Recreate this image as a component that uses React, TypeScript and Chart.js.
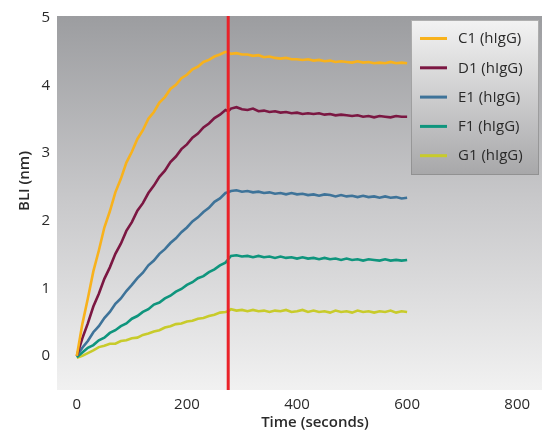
import { useEffect, useRef } from "react";
import { Chart, registerables } from "chart.js";

Chart.register(...registerables);

// Time points (seconds)
const times = [
  0, 10, 20, 30, 40, 50, 60, 70, 80, 90, 100, 110, 120, 130, 140, 150, 160, 170, 180, 190,
  200, 210, 220, 230, 240, 250, 260, 270, 275,
  280, 290, 300, 310, 320, 330, 340, 350, 360, 370, 380, 390, 400, 410, 420, 430, 440, 450,
  460, 470, 480, 490, 500, 510, 520, 530, 540, 550, 560, 570, 580, 590, 600,
];

const seriesNames = ["C1 (hIgG)", "D1 (hIgG)", "E1 (hIgG)", "F1 (hIgG)", "G1 (hIgG)"];
const seriesColors = ["#f8b21c", "#7b1742", "#3e7399", "#0f957d", "#c8cb2b"];

const c1 = [
  0.0, 0.47, 0.85, 1.25, 1.56, 1.9, 2.14, 2.42, 2.62, 2.86, 3.02, 3.21, 3.34, 3.51, 3.61, 3.75,
  3.83, 3.95, 4.01, 4.11, 4.16, 4.24, 4.28, 4.35, 4.38, 4.43, 4.46, 4.5, 4.49,
  4.47, 4.48, 4.46, 4.46, 4.44, 4.45, 4.42, 4.43, 4.41, 4.4, 4.41, 4.39, 4.39, 4.38, 4.39, 4.37,
  4.38, 4.36, 4.37, 4.35, 4.36, 4.35, 4.34, 4.36, 4.34, 4.35, 4.33, 4.34, 4.33, 4.35, 4.33, 4.34, 4.33,
];
const d1 = [
  0.0, 0.26, 0.48, 0.73, 0.92, 1.14, 1.31, 1.51, 1.66, 1.85, 1.98, 2.15, 2.26, 2.41, 2.52, 2.65,
  2.74, 2.87, 2.95, 3.06, 3.13, 3.23, 3.29, 3.38, 3.44, 3.52, 3.57, 3.64, 3.62,
  3.66, 3.68, 3.65, 3.64, 3.66, 3.62, 3.63, 3.61, 3.62, 3.6, 3.61, 3.59, 3.6, 3.58, 3.59, 3.58,
  3.59, 3.57, 3.58, 3.56, 3.57, 3.56, 3.55, 3.56, 3.54, 3.55, 3.53, 3.55, 3.54, 3.53, 3.55, 3.54, 3.54,
];
const e1 = [
  0.0, 0.12, 0.22, 0.35, 0.44, 0.56, 0.65, 0.77, 0.85, 0.96, 1.05, 1.15, 1.23, 1.34, 1.41, 1.51,
  1.58, 1.67, 1.74, 1.83, 1.9, 1.99, 2.05, 2.13, 2.19, 2.28, 2.33, 2.41, 2.42,
  2.44, 2.45, 2.43, 2.44, 2.42, 2.43, 2.41, 2.42, 2.4, 2.41, 2.39, 2.41, 2.39, 2.4, 2.38, 2.39,
  2.37, 2.39, 2.38, 2.36, 2.38, 2.36, 2.37, 2.35, 2.37, 2.35, 2.36, 2.34, 2.36, 2.34, 2.35, 2.33, 2.34,
];
const f1 = [
  -0.02, 0.05, 0.12, 0.16, 0.23, 0.27, 0.34, 0.38, 0.44, 0.48, 0.55, 0.59, 0.65, 0.69, 0.76, 0.79,
  0.85, 0.89, 0.95, 0.99, 1.05, 1.09, 1.15, 1.18, 1.24, 1.28, 1.34, 1.38, 1.43,
  1.48, 1.49, 1.47, 1.48, 1.46, 1.48, 1.46, 1.47, 1.45, 1.47, 1.45, 1.46, 1.44, 1.46, 1.44, 1.45,
  1.43, 1.45, 1.43, 1.44, 1.42, 1.44, 1.42, 1.43, 1.41, 1.43, 1.42, 1.41, 1.43, 1.41, 1.42, 1.41, 1.42,
];
const g1 = [
  -0.03, 0.0, 0.04, 0.08, 0.13, 0.15, 0.18, 0.18, 0.22, 0.23, 0.26, 0.27, 0.31, 0.33, 0.36, 0.38,
  0.42, 0.44, 0.47, 0.48, 0.51, 0.52, 0.55, 0.56, 0.59, 0.61, 0.64, 0.65, 0.66,
  0.69, 0.67, 0.68, 0.66, 0.68, 0.66, 0.67, 0.65, 0.67, 0.66, 0.68, 0.65, 0.66, 0.68, 0.65, 0.67,
  0.65, 0.66, 0.64, 0.67, 0.65, 0.66, 0.64, 0.67, 0.65, 0.66, 0.64, 0.66, 0.65, 0.67, 0.64, 0.66, 0.65,
];
const seriesValues = [c1, d1, e1, f1, g1];

const xTickValues = [0, 200, 400, 600, 800];
const yTickValues = [0, 1, 2, 3, 4, 5];
const markerTime = 275;
const xTitle = "Time (seconds)";
const yTitle = "BLI (nm)";

const FONT = "'Open Sans', 'Noto Sans', sans-serif";

const decorPlugin = {
  id: "decor",
  beforeDatasetsDraw(chart: any) {
    const { ctx, chartArea: a } = chart;
    ctx.save();
    const g = ctx.createLinearGradient(0, a.top, 0, a.bottom);
    g.addColorStop(0, "#9c9da0");
    g.addColorStop(0.5, "#c9c9cb");
    g.addColorStop(1, "#f1f1f1");
    ctx.fillStyle = g;
    ctx.fillRect(a.left, a.top, a.right - a.left, a.bottom - a.top);
    ctx.restore();
  },
  afterDatasetsDraw(chart: any) {
    const { ctx, chartArea: a, scales } = chart;
    ctx.save();
    // marker line
    const mx = scales.x.getPixelForValue(markerTime);
    ctx.strokeStyle = "#ea2229";
    ctx.lineWidth = 3;
    ctx.beginPath();
    ctx.moveTo(mx, a.top);
    ctx.lineTo(mx, a.bottom);
    ctx.stroke();

    // legend
    const lx = a.right - 131;
    const ly = a.top + 4;
    const lw = 128;
    const lh = 155;
    const lg = ctx.createLinearGradient(0, ly, 0, ly + lh);
    lg.addColorStop(0, "#f3f3f3");
    lg.addColorStop(1, "#a7a7a9");
    ctx.fillStyle = lg;
    ctx.fillRect(lx, ly, lw, lh);
    ctx.strokeStyle = "rgba(130,130,130,0.6)";
    ctx.lineWidth = 1;
    ctx.strokeRect(lx + 0.5, ly + 0.5, lw - 1, lh - 1);
    ctx.font = `15px ${FONT}`;
    ctx.textBaseline = "middle";
    ctx.textAlign = "left";
    seriesNames.forEach((name, i) => {
      const y = ly + 18.5 + i * 29.3;
      ctx.strokeStyle = seriesColors[i];
      ctx.lineWidth = 3;
      ctx.beginPath();
      ctx.moveTo(lx + 9, y);
      ctx.lineTo(lx + 36, y);
      ctx.stroke();
      ctx.fillStyle = "#2a2a2a";
      ctx.fillText(name, lx + 47, y + 0.5);
    });

    // axis titles
    ctx.fillStyle = "#2a2a2a";
    ctx.font = `600 15px ${FONT}`;
    ctx.textAlign = "center";
    ctx.textBaseline = "middle";
    ctx.fillText(xTitle, 315, 423);
    ctx.translate(25, 181);
    ctx.rotate(-Math.PI / 2);
    ctx.fillText(yTitle, 0, 0);
    ctx.restore();
  },
};

export default function App() {
  const ref = useRef<HTMLCanvasElement>(null);
  useEffect(() => {
    const canvas = ref.current;
    if (!canvas) return;
    const chart = new Chart(canvas, {
      type: "line",
      data: {
        datasets: seriesNames.map((name, i) => ({
          label: name,
          data: times.map((t, j) => ({ x: t, y: seriesValues[i][j] })),
          borderColor: seriesColors[i],
          backgroundColor: seriesColors[i],
          borderWidth: 2.6,
          pointRadius: 0,
          tension: 0,
          fill: false,
        })),
      },
      options: {
        responsive: false,
        animation: false,
        layout: { padding: { top: 12, left: 0, right: 0, bottom: 0 } },
        plugins: { legend: { display: false }, tooltip: { enabled: false } },
        scales: {
          x: {
            type: "linear",
            min: -36,
            max: 845,
            grid: { display: false, drawTicks: false },
            border: { display: false },
            ticks: { font: { family: FONT, size: 15 }, color: "#2a2a2a", padding: 6 },
            afterBuildTicks: (s: any) => {
              s.ticks = xTickValues.map((v) => ({ value: v }));
            },
            afterFit: (s: any) => {
              s.height = 47;
            },
          },
          y: {
            type: "linear",
            min: -0.505,
            max: 5.03,
            grid: { display: false, drawTicks: false },
            border: { display: false },
            ticks: { font: { family: FONT, size: 15 }, color: "#2a2a2a", padding: 7 },
            afterBuildTicks: (s: any) => {
              s.ticks = yTickValues.map((v) => ({ value: v }));
            },
            afterFit: (s: any) => {
              s.width = 57;
            },
          },
        },
      },
      plugins: [decorPlugin],
    });
    return () => chart.destroy();
  }, []);
  return (
    <div style={{ position: "fixed", left: 0, top: 0, width: 542, height: 437, background: "#fff" }}>
      <canvas ref={ref} width={542} height={437} style={{ display: "block" }} />
    </div>
  );
}
